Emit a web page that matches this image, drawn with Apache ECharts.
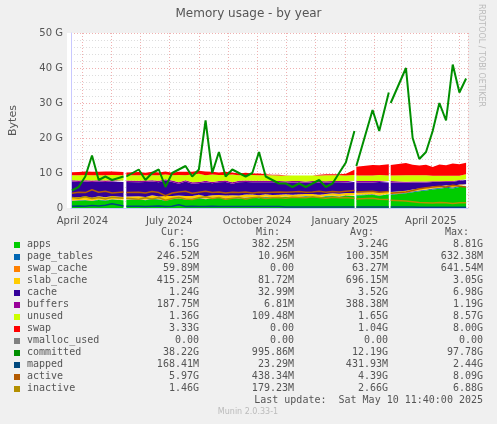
<!DOCTYPE html>
<html lang="en">
<head>
<meta charset="UTF-8">
<title>Memory usage - by year</title>
<style>
  html, body { margin: 0; padding: 0; background: #f0f0f0; }
  #chart { width: 497px; height: 424px; }
</style>
</head>
<body>
<div id="chart"></div>
<script src="https://cdn.jsdelivr.net/npm/echarts@6/dist/echarts.min.js"></script>
<script>
// roughly weekly samples, null = no data (gaps)
var dates = [
  '2024-03-21','2024-03-28','2024-04-04','2024-04-11','2024-04-18','2024-04-25','2024-05-02','2024-05-14','2024-05-15','2024-05-17',
  '2024-05-30','2024-06-06','2024-06-13','2024-06-20','2024-06-27','2024-07-04','2024-07-11','2024-07-18','2024-07-25','2024-08-01',
  '2024-08-08','2024-08-15','2024-08-22','2024-08-29','2024-09-05','2024-09-12','2024-09-19','2024-09-26','2024-10-03','2024-10-10',
  '2024-10-17','2024-10-24','2024-10-31','2024-11-07','2024-11-14','2024-11-21','2024-11-28','2024-12-05','2024-12-12','2024-12-19',
  '2024-12-26','2025-01-02','2025-01-11','2025-01-12','2025-01-13','2025-01-30','2025-02-06','2025-02-16','2025-02-17','2025-02-18',
  '2025-03-06','2025-03-13','2025-03-20','2025-03-27','2025-04-03','2025-04-10','2025-04-17','2025-04-24','2025-05-01','2025-05-08'
];
var apps = [
  2.0,2.1,2.2,2.0,2.3,2.1,2.4,2.2,null,2.3,
  2.5,2.2,2.6,2.4,2.1,2.5,2.7,2.4,2.6,2.8,
  2.5,2.7,2.9,2.6,2.8,2.7,2.9,3.0,2.8,3.1,
  2.9,3.0,3.2,3.0,3.1,3.3,3.2,3.0,3.3,3.4,
  3.2,3.5,3.4,null,3.6,3.8,3.5,3.9,null,3.8,
  4.2,4.5,4.8,5.0,5.3,5.5,5.8,5.6,6.0,6.1
];
var pageTables = [
  0.1,0.1,0.1,0.1,0.1,0.1,0.1,0.1,null,0.1,
  0.1,0.1,0.1,0.1,0.1,0.1,0.1,0.1,0.1,0.1,
  0.1,0.1,0.1,0.1,0.1,0.1,0.1,0.1,0.1,0.1,
  0.1,0.1,0.1,0.1,0.1,0.1,0.1,0.1,0.1,0.1,
  0.1,0.1,0.1,null,0.1,0.1,0.1,0.1,null,0.1,
  0.15,0.2,0.2,0.2,0.25,0.25,0.25,0.25,0.25,0.25
];
var swapCache = [
  0.05,0.06,0.06,0.05,0.06,0.06,0.05,0.06,null,0.06,
  0.06,0.05,0.06,0.06,0.05,0.06,0.06,0.06,0.05,0.06,
  0.06,0.06,0.05,0.06,0.06,0.06,0.05,0.06,0.06,0.06,
  0.03,0.02,0.01,0.0,0.0,0.0,0.0,0.02,0.03,0.04,
  0.05,0.08,0.1,null,0.1,0.1,0.1,0.1,null,0.1,
  0.08,0.08,0.07,0.07,0.06,0.06,0.06,0.06,0.06,0.06
];
var slabCache = [
  0.9,0.8,0.9,0.8,0.9,0.8,0.9,0.8,null,0.8,
  0.7,0.8,0.9,0.7,1.2,0.8,0.7,0.9,0.7,0.8,
  0.7,0.8,0.7,0.8,0.7,0.7,0.8,0.7,0.7,0.7,
  0.7,0.7,0.6,0.7,0.7,0.6,0.7,0.7,0.6,0.7,
  0.7,0.6,0.7,null,0.6,0.6,0.7,0.6,null,0.6,
  0.5,0.5,0.5,0.5,0.5,0.4,0.4,0.4,0.4,0.4
];
var cache = [
  4.5,4.4,4.3,4.5,4.2,4.4,4.1,4.3,null,4.2,
  4.0,4.3,3.9,4.1,4.4,4.0,3.4,4.1,3.5,3.3,
  4.0,3.4,3.6,3.9,3.3,3.8,3.6,3.5,3.7,3.4,
  3.6,3.5,3.3,3.5,3.4,3.2,3.3,3.5,3.2,3.1,
  3.3,3.0,3.1,null,2.9,2.7,3.0,2.6,null,2.7,
  2.3,2.0,1.7,1.5,1.3,1.2,1.0,1.2,1.1,1.2
];
var buffers = [
  0.4,0.4,0.4,0.4,0.4,0.4,0.4,0.4,null,0.4,
  0.4,0.4,0.4,0.4,0.4,0.4,0.4,0.4,0.4,0.4,
  0.4,0.4,0.4,0.4,0.4,0.4,0.4,0.4,0.4,0.4,
  0.4,0.4,0.4,0.4,0.4,0.4,0.4,0.4,0.4,0.4,
  0.4,0.4,0.4,null,0.4,0.4,0.4,0.4,null,0.4,
  0.3,0.3,0.3,0.3,0.2,0.2,0.2,0.2,0.2,0.2
];
var unused = [
  1.4,1.5,1.5,1.5,1.4,1.5,1.5,1.5,null,1.5,
  1.6,1.5,1.4,1.6,1.3,1.5,2.1,1.4,2.2,2.3,
  1.6,2.1,1.7,1.6,2.2,1.6,1.6,1.7,1.6,1.6,
  1.6,1.6,1.6,1.6,1.6,1.7,1.6,1.6,1.7,1.6,
  1.6,1.6,1.6,null,1.6,1.6,1.6,1.6,null,1.6,
  1.8,1.8,1.8,1.8,1.6,1.6,1.5,1.5,1.2,1.4
];
var swap = [
  0.9,0.9,1.0,1.0,1.0,1.1,1.0,0.9,null,0.8,
  0.9,0.7,1.0,0.8,0.9,0.7,0.9,1.0,0.8,0.9,
  1.1,0.8,0.7,0.9,0.6,0.5,0.6,0.4,0.5,0.3,
  0.2,0.2,0.1,0.0,0.0,0.0,0.0,0.2,0.3,0.3,
  0.3,0.5,1.5,null,2.5,3.0,2.8,3.2,null,3.0,
  3.5,3.0,2.8,3.0,2.5,3.2,3.0,3.5,3.3,3.3
];
var vmallocUsed = [
  0,0,0,0,0,0,0,0,null,0, 0,0,0,0,0,0,0,0,0,0, 0,0,0,0,0,0,0,0,0,0,
  0,0,0,0,0,0,0,0,0,0, 0,0,0,null,0,0,0,0,null,0, 0,0,0,0,0,0,0,0,0,0
];
var committed = [
  5,6,9,15,8,9,8,9,null,9,
  11,8,10,11,6,10,11,12,9,11,
  25,10,16,9,11,10,9,10,16,9,
  8,7,7,6,7,6,7,8,6,7,
  10,13,22,null,12,28,22,33,null,30,
  40,20,14,16,22,30,25,41,33,37
];
var mapped = [
  0.5,0.6,0.5,0.7,0.6,0.8,1.2,0.6,null,0.5,
  0.5,0.4,0.5,0.6,0.4,0.5,0.9,0.4,0.5,0.4,
  0.4,0.5,0.4,0.4,0.4,0.4,0.4,0.4,0.4,0.4,
  0.4,0.4,0.3,0.3,0.3,0.3,0.3,0.3,0.3,0.3,
  0.3,0.3,0.3,null,0.3,0.3,0.3,0.3,null,0.3,
  0.3,0.3,0.2,0.2,0.2,0.2,0.2,0.2,0.2,0.2
];
var active = [
  4.2,4.5,4.4,5.2,4.5,4.8,4.3,4.6,null,4.4,
  4.5,4.3,4.7,4.4,3.5,4.3,4.6,4.8,4.2,4.5,
  4.8,4.4,4.6,4.3,4.5,4.4,4.6,4.3,4.5,4.4,
  4.5,4.6,4.5,4.6,4.7,4.5,4.6,4.8,4.5,4.7,
  4.6,4.8,5.0,null,4.6,4.8,4.5,4.7,null,4.2,
  4.6,5.0,5.5,5.8,6.0,6.2,6.0,6.5,6.2,6.0
];
var inactive = [
  3.0,2.8,3.2,2.7,3.0,2.6,3.1,2.8,null,2.8,
  2.5,2.9,2.6,3.0,2.2,2.7,3.0,2.6,2.4,2.9,
  3.2,2.7,3.0,2.5,2.8,3.0,2.6,2.9,3.1,2.7,
  2.9,3.0,2.8,3.1,3.0,2.9,3.2,3.0,2.8,3.1,
  2.9,3.0,2.8,null,2.6,2.8,2.5,2.4,null,2.2,
  2.0,1.8,1.6,1.5,1.4,1.6,1.5,1.3,1.5,1.5
];

var legendNames = ['apps','page_tables','swap_cache','slab_cache','cache','buffers','unused','swap','vmalloc_used','committed','mapped','active','inactive'];
var legendColors = ['#00cc00','#0066b3','#ff8000','#ffcc00','#330099','#990099','#ccff00','#ff0000','#808080','#008f00','#00487d','#b35a00','#b38f00'];
var statCur = ['6.15G','246.52M','59.89M','415.25M','1.24G','187.75M','1.36G','3.33G','0.00','38.22G','168.41M','5.97G','1.46G'];
var statMin = ['382.25M','10.96M','0.00','81.72M','32.99M','6.81M','109.48M','0.00','0.00','995.86M','23.29M','438.34M','179.23M'];
var statAvg = ['3.24G','100.35M','63.27M','696.15M','3.52G','388.38M','1.65G','1.04G','0.00','12.19G','431.93M','4.39G','2.66G'];
var statMax = ['8.81G','632.38M','641.54M','3.05G','6.98G','1.19G','8.57G','8.00G','0.00','97.78G','2.44G','8.09G','6.88G'];

var stacked = [apps, pageTables, swapCache, slabCache, cache, buffers, unused, swap, vmallocUsed];
var lines = [committed, mapped, active, inactive];
var monthNames = ['January','February','March','April','May','June','July','August','September','October','November','December'];

function pairs(arr) {
  return dates.map(function (d, i) { return [d, arr[i]]; });
}

var series = [];
stacked.forEach(function (arr, i) {
  series.push({
    name: legendNames[i], type: 'line', stack: 'mem', data: pairs(arr),
    symbol: 'none', connectNulls: false, lineStyle: { width: 0 },
    areaStyle: { color: legendColors[i], opacity: 1 }, itemStyle: { color: legendColors[i] },
    animation: false
  });
});
lines.forEach(function (arr, i) {
  var k = stacked.length + i;
  series.push({
    name: legendNames[k], type: 'line', data: pairs(arr), symbol: 'none', connectNulls: false,
    lineStyle: { width: i === 0 ? 2 : 1.5, color: legendColors[k] }, itemStyle: { color: legendColors[k] },
    animation: false, z: 3
  });
});

var mono = 'DejaVu Sans Mono';
var graphic = [];
var colX = [199, 294, 388, 483];
['Cur:', 'Min:', 'Avg:', 'Max:'].forEach(function (h, j) {
  graphic.push({ type: 'text', x: colX[j] - 14, y: 227, style: { text: h, font: '10px ' + mono, fill: '#555', align: 'right' } });
});
legendNames.forEach(function (n, i) {
  var y = 239 + i * 12;
  graphic.push({ type: 'rect', shape: { x: 14, y: y + 3, width: 6, height: 6 }, style: { fill: legendColors[i] } });
  graphic.push({ type: 'text', x: 27, y: y, style: { text: n, font: '10px ' + mono, fill: '#555' } });
  [statCur, statMin, statAvg, statMax].forEach(function (arr, j) {
    graphic.push({ type: 'text', x: colX[j], y: y, style: { text: arr[i], font: '10px ' + mono, fill: '#555', align: 'right' } });
  });
});
graphic.push({ type: 'text', x: 483, y: 395, style: { text: 'Last update:  Sat May 10 11:40:00 2025', font: '10px ' + mono, fill: '#555', align: 'right' } });
graphic.push({ type: 'text', x: 248, y: 408, style: { text: 'Munin 2.0.33-1', font: '8px DejaVu Sans', fill: '#bbb', align: 'center' } });
graphic.push({ type: 'text', x: 485, y: 4, rotation: -Math.PI / 2, style: { text: 'RRDTOOL / TOBI OETIKER', font: '8px DejaVu Sans', fill: '#bbb' } });
graphic.push({ type: 'rect', shape: { x: 67, y: 33, width: 401, height: 175 }, style: { fill: '#fff' }, z: -10 });

var chart = echarts.init(document.getElementById('chart'));
chart.setOption({
  backgroundColor: '#f0f0f0',
  title: { text: 'Memory usage - by year', left: 'center', top: 3, textStyle: { fontFamily: 'DejaVu Sans', fontSize: 12, fontWeight: 'normal', color: '#555' } },
  grid: { left: 67, right: 29, top: 33, bottom: 216 },
  graphic: graphic,
  xAxis: {
    type: 'time', min: '2024-03-20', max: '2025-05-10',
    minInterval: 28 * 86400000, maxInterval: 31 * 86400000, splitNumber: 14,
    axisLine: { lineStyle: { color: '#c8c8ff' } }, axisTick: { show: false },
    axisLabel: {
      fontFamily: 'DejaVu Sans', fontSize: 10, color: '#555', hideOverlap: false,
      formatter: function (v) {
        var d = new Date(v);
        return (d.getMonth() % 3 === 0 && d.getDate() === 1) ? monthNames[d.getMonth()] + ' ' + d.getFullYear() : '';
      }
    },
    splitLine: { show: true, lineStyle: { color: '#f0b0b0', type: [1, 2] } }
  },
  yAxis: {
    type: 'value', min: 0, max: 50, interval: 10,
    name: 'Bytes', nameLocation: 'middle', nameGap: 52, nameRotate: 90,
    nameTextStyle: { fontFamily: 'DejaVu Sans', fontSize: 11, color: '#555' },
    axisLine: { show: true, lineStyle: { color: '#c8c8ff' } }, axisTick: { show: false },
    axisLabel: { fontFamily: 'DejaVu Sans', fontSize: 10, color: '#555', formatter: function (v) { return v === 0 ? '0' : v + ' G'; } },
    splitLine: { lineStyle: { color: '#f0b0b0', type: [1, 2] } },
    minorTick: { show: true, splitNumber: 5, length: 0 },
    minorSplitLine: { show: true, lineStyle: { color: '#dddddd', type: [1, 2] } }
  },
  series: series
});
</script>
</body>
</html>
